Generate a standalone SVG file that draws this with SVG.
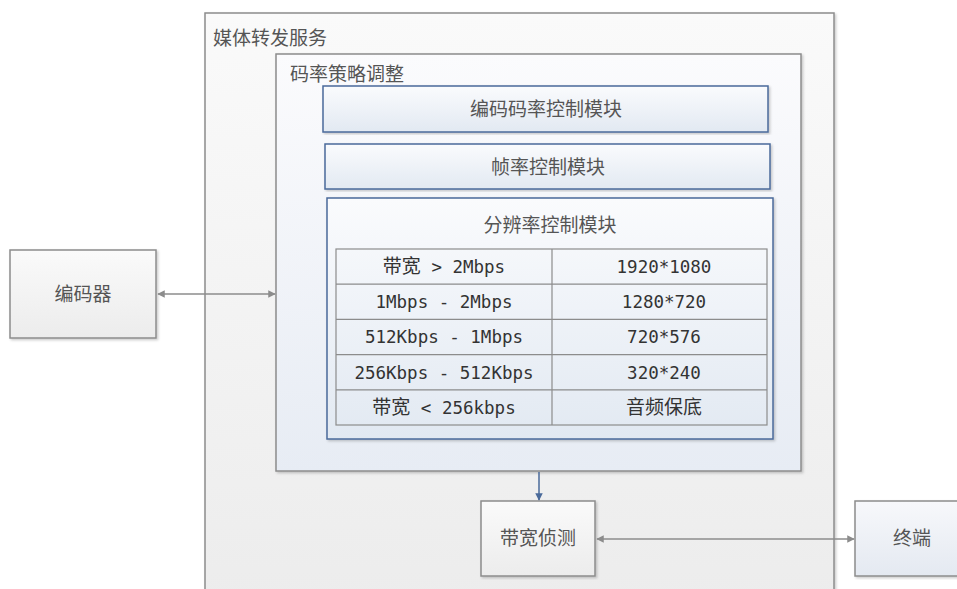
<svg xmlns="http://www.w3.org/2000/svg" width="957" height="589" viewBox="0 0 957 589">
<style>
text{font-family:"Noto Sans CJK SC","Liberation Sans",sans-serif;fill:#555555}
.lbl{font-size:19px}
.c{text-anchor:middle}
.grey{stroke:#8c8c8c;stroke-width:1.5}
.blue{stroke:#4a6a9a;stroke-width:1.5}
.cell{font-family:"DejaVu Sans Mono","Noto Sans CJK SC",monospace;font-size:17.5px;fill:#333333}
.cj{font-family:"Noto Sans CJK SC",sans-serif;font-size:19px}
.tbl{stroke:#8c8c8c;stroke-width:1.2;fill:none}
</style>
<defs>
<linearGradient id="gOuter" x1="0" y1="0" x2="0" y2="1"><stop offset="0" stop-color="#fafafa"/><stop offset="1" stop-color="#ececec"/></linearGradient>
<linearGradient id="gStrat" x1="0" y1="0" x2="0" y2="1"><stop offset="0" stop-color="#fbfbfd"/><stop offset="1" stop-color="#e7ecf4"/></linearGradient>
<linearGradient id="gMod" x1="0" y1="0" x2="0" y2="1"><stop offset="0" stop-color="#fafbfd"/><stop offset="1" stop-color="#e2e9f2"/></linearGradient>
<linearGradient id="gBox" x1="0" y1="0" x2="0" y2="1"><stop offset="0" stop-color="#fafafa"/><stop offset="1" stop-color="#ececec"/></linearGradient>
<linearGradient id="gTerm" x1="0" y1="0" x2="0" y2="1"><stop offset="0" stop-color="#f7f8fb"/><stop offset="1" stop-color="#e4e9f1"/></linearGradient>
<marker id="ag" viewBox="0 0 10 10" refX="9" refY="5" markerWidth="5" markerHeight="5" orient="auto-start-reverse"><path d="M0,0 L10,5 L0,10 z" fill="#8c8c8c"/></marker>
<marker id="ab" viewBox="0 0 10 10" refX="9" refY="5" markerWidth="5" markerHeight="5" orient="auto"><path d="M0,0 L10,5 L0,10 z" fill="#4a6a9a"/></marker>
<filter id="sh" x="-5%" y="-5%" width="110%" height="110%"><feDropShadow dx="1.5" dy="1.5" stdDeviation="1" flood-color="#000" flood-opacity="0.2"/></filter>
</defs>
<g id="media-forward">
<rect x="205" y="13" width="629" height="600" fill="url(#gOuter)" class="grey" filter="url(#sh)"/>
<text x="213" y="45" class="lbl">媒体转发服务</text>
</g>
<g id="bitrate-strategy">
<rect x="276" y="54" width="525" height="417" fill="url(#gStrat)" class="grey" filter="url(#sh)"/>
<text x="290" y="81" class="lbl">码率策略调整</text>
</g>
<g id="encode-rate">
<rect x="323" y="86" width="445" height="46" fill="url(#gMod)" class="blue" filter="url(#sh)"/>
<text x="546" y="116" class="lbl c">编码码率控制模块</text>
</g>
<g id="frame-rate">
<rect x="325" y="144" width="445" height="45" fill="url(#gMod)" class="blue" filter="url(#sh)"/>
<text x="548" y="174" class="lbl c">帧率控制模块</text>
</g>
<g id="resolution">
<rect x="327" y="198" width="446" height="241" fill="url(#gMod)" class="blue" filter="url(#sh)"/>
<text x="550" y="232" class="lbl c">分辨率控制模块</text>
<rect x="336" y="249" width="431" height="176" fill="#ffffff" class="tbl"/>
<path d="M552,249 V425 M336,284.2 H767 M336,319.4 H767 M336,354.6 H767 M336,389.8 H767" class="tbl"/>
<text x="444" y="273" class="cell c"><tspan class="cj">带宽</tspan> &gt; 2Mbps</text>
<text x="664" y="273" class="cell c">1920*1080</text>
<text x="444" y="308" class="cell c">1Mbps - 2Mbps</text>
<text x="664" y="308" class="cell c">1280*720</text>
<text x="444" y="343" class="cell c">512Kbps - 1Mbps</text>
<text x="664" y="343" class="cell c">720*576</text>
<text x="444" y="378.5" class="cell c">256Kbps - 512Kbps</text>
<text x="664" y="378.5" class="cell c">320*240</text>
<text x="444" y="414" class="cell c"><tspan class="cj">带宽</tspan> &lt; 256kbps</text>
<text x="664" y="414" class="cell c"><tspan class="cj" font-size="20">音频保底</tspan></text>
</g>
<g id="encoder">
<rect x="10" y="250" width="146" height="88" fill="url(#gBox)" class="grey" filter="url(#sh)"/>
<text x="83" y="301" class="lbl c">编码器</text>
</g>
<g id="bandwidth-detect">
<rect x="481" y="501" width="114" height="75" fill="url(#gBox)" class="grey" filter="url(#sh)"/>
<text x="538" y="545" class="lbl c">带宽侦测</text>
</g>
<g id="terminal">
<rect x="855" y="501" width="110" height="75" fill="url(#gTerm)" class="grey" filter="url(#sh)"/>
<text x="912" y="545" class="lbl c">终端</text>
</g>
<g id="connectors">
<line x1="158" y1="294" x2="275" y2="294" class="grey" marker-start="url(#ag)" marker-end="url(#ag)"/>
<line x1="597" y1="539" x2="854" y2="539" class="grey" marker-start="url(#ag)" marker-end="url(#ag)"/>
<line x1="539" y1="472" x2="539" y2="500" class="blue" marker-end="url(#ab)"/>
</g>
</svg>
